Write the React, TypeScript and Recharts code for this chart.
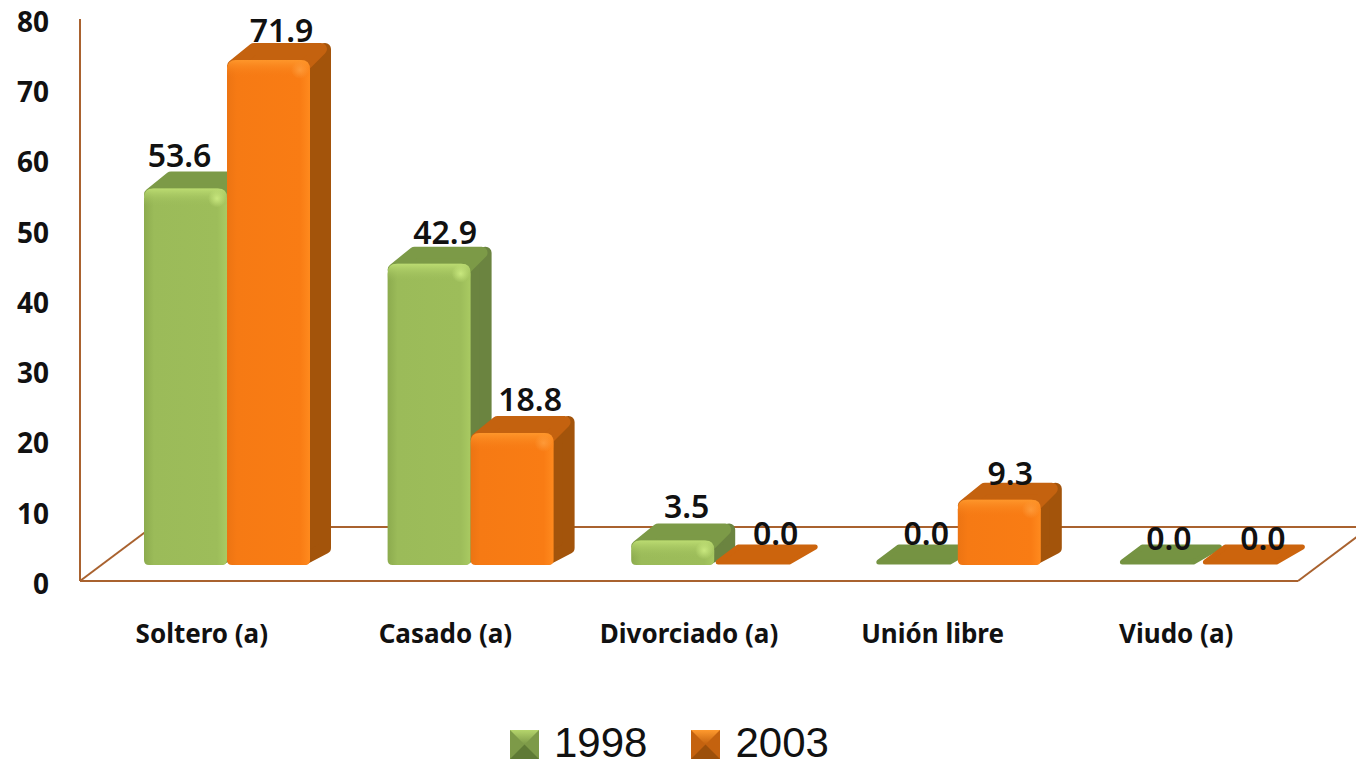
import { BarChart, Bar, XAxis, YAxis, Legend, LabelList, usePlotArea } from 'recharts';

const categories = ['Soltero (a)', 'Casado (a)', 'Divorciado (a)', 'Unión libre', 'Viudo (a)'];
const values1998 = [53.6, 42.9, 3.5, 0.0, 0.0];
const values2003 = [71.9, 18.8, 0.0, 9.3, 0.0];
const yTicks = [0, 10, 20, 30, 40, 50, 60, 70, 80];

const chartData = categories.map((name, i) => ({
    name,
    y1998: values1998[i],
    y2003: values2003[i],
}));

const AXIS_COLOR = '#a9622f';
const FONT = '"Noto Sans", sans-serif';

// the 3D look: bars sit a bit behind the front floor edge and have a depth
const SHIFT_X = 25;
const SHIFT_Y = -16;
const DEPTH_X = 21;
const DEPTH_Y = 17;

const green = { id: 'green', side: '#6b8440', top: '#7c9a47', zero: '#759342' };
const orange = { id: 'orange', side: '#a3540b', top: '#c4620f', zero: '#cc640d' };

// data labels in the reference are placed by hand, so they get a nudge each
const nudge1998 = [[-6, -4], [16, -3], [14, -5], [10, -3], [9, 2]];
const nudge2003 = [[13, -1], [18, -5], [20, -3], [11, 2], [20, 2]];

function Floor() {
    const plot = usePlotArea();
    if (!plot) return null;
    const left = plot.x;
    const right = plot.x + plot.width;
    const bottom = plot.y + plot.height;
    const back = bottom - 54;
    return (
        <g stroke={AXIS_COLOR} strokeWidth={2} fill="none">
            <line x1={left} y1={bottom} x2={left + 72} y2={back} />
            <line x1={right} y1={bottom} x2={right + 72} y2={back} />
            <line x1={left + 72} y1={back} x2={right + 72} y2={back} />
        </g>
    );
}

function facePath(x: number, y: number, w: number, h: number) {
    const rt = Math.min(10, h / 2);
    const rb = Math.min(5, h / 2);
    return `M${x + rt},${y} H${x + w - rt} Q${x + w},${y} ${x + w},${y + rt} V${y + h - rb} Q${x + w},${y + h} ${x + w - rb},${y + h} H${x + rb} Q${x},${y + h} ${x},${y + h - rb} V${y + rt} Q${x},${y} ${x + rt},${y} Z`;
}

function Bar3D(props: any) {
    const { x, y, width, height, tone } = props;
    const w = width;
    const g = `translate(${SHIFT_X},${SHIFT_Y})`;
    if (height < 1) {
        const d = 20;
        return (
            <g transform={g}>
                <polygon
                    points={`${x + 4},${y - 3} ${x + DEPTH_X + 3},${y - d + 2} ${x + w + DEPTH_X - 3},${y - d + 2} ${x + w - 8},${y - 3}`}
                    fill={tone.zero}
                    stroke={tone.zero}
                    strokeWidth={5}
                    strokeLinejoin="round"
                />
            </g>
        );
    }
    const top = y - DEPTH_Y;
    const inset = 6;
    return (
        <g transform={g}>
            <polygon
                points={`${x + w - inset},${y + height - inset} ${x + w + DEPTH_X - inset},${y + height - DEPTH_Y} ${x + w + DEPTH_X - inset},${top + inset} ${x + w - inset},${y + inset}`}
                fill={tone.side}
                stroke={tone.side}
                strokeWidth={inset * 2}
                strokeLinejoin="round"
            />
            <polygon
                points={`${x + inset},${y + inset} ${x + DEPTH_X + inset},${top + inset} ${x + w + DEPTH_X - inset - 4},${top + inset} ${x + w - inset},${y + inset}`}
                fill={tone.top}
                stroke={tone.top}
                strokeWidth={inset * 2}
                strokeLinejoin="round"
            />
            <path d={facePath(x, y, w, height)} fill={`url(#${tone.id}Face)`} />
            <path d={facePath(x, y, w, Math.min(18, height))} fill={`url(#${tone.id}Bevel)`} />
            <circle cx={x + w - 10} cy={y + 10} r={9} fill={`url(#${tone.id}Spot)`} />
        </g>
    );
}

function valueLabel(nudges: number[][]) {
    return (props: any) => {
        const { x, y, width, value, index } = props;
        const [nx, ny] = nudges[index];
        return (
            <text
                x={x + width / 2 + SHIFT_X + nx}
                y={y + SHIFT_Y - DEPTH_Y + ny}
                textAnchor="middle"
                fontFamily={FONT}
                fontWeight={600}
                fontSize={32}
                fill="#111"
            >
                {Number(value).toFixed(1)}
            </text>
        );
    };
}

function Swatch({ light, mid, dark }: { light: string; mid: string; dark: string }) {
    return (
        <svg width={29} height={29} style={{ display: 'block', marginTop: 3 }}>
            <defs>
                <linearGradient id={`sw${mid.slice(1)}`} x1="0" y1="0" x2="0" y2="1">
                    <stop offset="0" stopColor={light} />
                    <stop offset="1" stopColor={mid} />
                </linearGradient>
            </defs>
            <rect width={29} height={29} fill={mid} />
            <polygon points="0,0 29,0 14.5,14.5" fill={`url(#sw${mid.slice(1)})`} />
            <polygon points="0,29 29,29 14.5,14.5" fill={dark} />
        </svg>
    );
}

const swatches: Record<string, { light: string; mid: string; dark: string }> = {
    '1998': { light: '#b5d56c', mid: '#7d9a48', dark: '#5f7a35' },
    '2003': { light: '#ff9a2e', mid: '#c4620f', dark: '#9c4f0a' },
};

function LegendRow({ payload }: any) {
    return (
        <div style={{ height: 0, overflow: 'visible', position: 'relative' }}>
            <div style={{ position: 'absolute', left: 510, top: 723, display: 'flex', alignItems: 'center' }}>
                {(payload || []).map((item: any, i: number) => (
                    <div key={item.value} style={{ display: 'flex', alignItems: 'center', marginRight: i === 0 ? 44 : 0 }}>
                        <Swatch {...swatches[item.value]} />
                        <div style={{ marginLeft: 15, fontFamily: '"Liberation Sans", sans-serif', fontSize: 42, lineHeight: '40px', height: 40, color: '#111' }}>
                            {item.value}
                        </div>
                    </div>
                ))}
            </div>
        </div>
    );
}

export default function App() {
    return (
        <div style={{ position: 'absolute', left: 0, top: 0, width: 1356, height: 766, overflow: 'hidden', background: '#fff' }}>
            <BarChart
                width={1356}
                height={766}
                data={chartData}
                barSize={83}
                barGap={0}
                margin={{ top: 19, right: 58, bottom: 125, left: 0 }}
            >
                <defs>
                    <linearGradient id="greenFace" x1="0" y1="0" x2="1" y2="0">
                        <stop offset="0" stopColor="#8cab4e" />
                        <stop offset="0.12" stopColor="#9bbb59" />
                        <stop offset="0.88" stopColor="#9dbd5a" />
                        <stop offset="1" stopColor="#a9ca62" />
                    </linearGradient>
                    <linearGradient id="orangeFace" x1="0" y1="0" x2="1" y2="0">
                        <stop offset="0" stopColor="#ec7413" />
                        <stop offset="0.12" stopColor="#f67a14" />
                        <stop offset="0.88" stopColor="#f97c14" />
                        <stop offset="1" stopColor="#ff8a1e" />
                    </linearGradient>
                    <linearGradient id="greenBevel" x1="0" y1="0" x2="0" y2="1">
                        <stop offset="0" stopColor="#bcdc72" stopOpacity={1} />
                        <stop offset="1" stopColor="#9bbb59" stopOpacity={0} />
                    </linearGradient>
                    <linearGradient id="orangeBevel" x1="0" y1="0" x2="0" y2="1">
                        <stop offset="0" stopColor="#ff9a2e" stopOpacity={0.9} />
                        <stop offset="1" stopColor="#f67a14" stopOpacity={0} />
                    </linearGradient>
                    <radialGradient id="greenSpot">
                        <stop offset="0" stopColor="#cdec82" stopOpacity={0.9} />
                        <stop offset="1" stopColor="#cdec82" stopOpacity={0} />
                    </radialGradient>
                    <radialGradient id="orangeSpot">
                        <stop offset="0" stopColor="#ffa040" stopOpacity={0.8} />
                        <stop offset="1" stopColor="#ffa040" stopOpacity={0} />
                    </radialGradient>
                </defs>
                <XAxis
                    dataKey="name"
                    height={60}
                    tickLine={false}
                    tickMargin={38}
                    interval={0}
                    axisLine={{ stroke: AXIS_COLOR, strokeWidth: 2 }}
                    tick={{ fontFamily: FONT, fontWeight: 700, fontSize: 26, fill: '#111' }}
                />
                <YAxis
                    width={80}
                    domain={[0, 80]}
                    ticks={yTicks}
                    tickLine={false}
                    tickMargin={25}
                    axisLine={{ stroke: AXIS_COLOR, strokeWidth: 2 }}
                    tick={{ fontFamily: FONT, fontWeight: 700, fontSize: 28, fill: '#111', dy: 3 }}
                />
                <Floor />
                <Legend content={<LegendRow />} wrapperStyle={{ left: 0, top: 0, width: 1356, height: 0 }} />
                <Bar
                    dataKey="y1998"
                    name="1998"
                    fill="#9bbb59"
                    isAnimationActive={false}
                    shape={(p: any) => <Bar3D {...p} tone={green} />}
                >
                    <LabelList dataKey="y1998" content={valueLabel(nudge1998)} />
                </Bar>
                <Bar
                    dataKey="y2003"
                    name="2003"
                    fill="#f79646"
                    isAnimationActive={false}
                    shape={(p: any) => <Bar3D {...p} tone={orange} />}
                >
                    <LabelList dataKey="y2003" content={valueLabel(nudge2003)} />
                </Bar>
            </BarChart>
        </div>
    );
}
